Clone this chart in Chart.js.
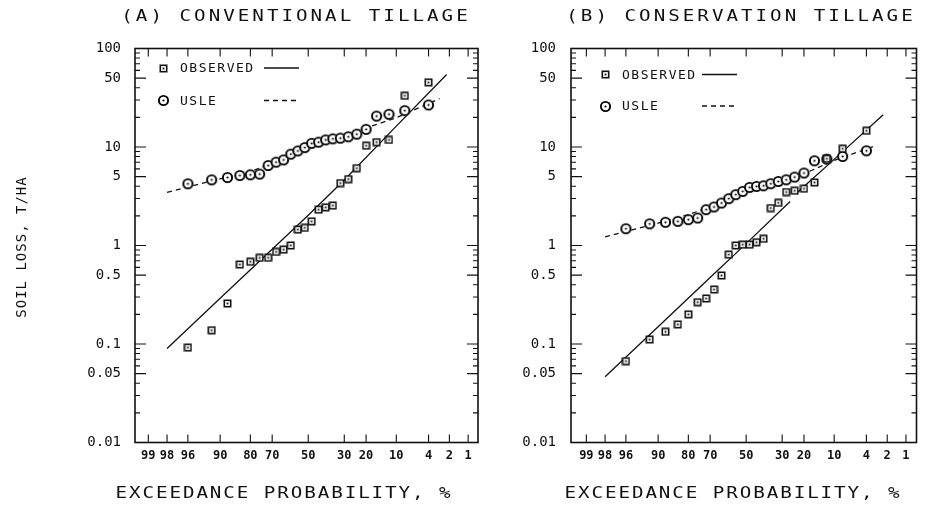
<!DOCTYPE html>
<html>
<head>
<meta charset="utf-8">
<title>Soil loss exceedance probability</title>
<script src="https://cdn.jsdelivr.net/npm/chart.js@4.4.0/dist/chart.umd.min.js"></script>
<style>
    html, body { margin: 0; padding: 0; background: #fff; }
    #wrap { position: relative; width: 941px; height: 509px; overflow: hidden; }
    #chartA { position: absolute; left: 0; top: 0; }
    #chartB { position: absolute; left: 520px; top: 0; }
</style>
</head>
<body>
<div id="wrap">
    <canvas id="chartA" width="520" height="509"></canvas>
    <canvas id="chartB" width="421" height="509"></canvas>
</div>
<script>
// exceedance probability (%) of each ranked storm
const plotPos = [96, 92, 88, 84, 80, 76, 72, 68, 64, 60, 56, 52, 48, 44, 40, 36, 32, 28, 24, 20, 16, 12, 8, 4];

// (A) conventional tillage, soil loss T/HA
const convObserved = [0.092, 0.138, 0.258, 0.641, 0.683, 0.749, 0.75, 0.861, 0.909, 1.0, 1.45, 1.51,
    1.76, 2.31, 2.44, 2.54, 4.3, 4.72, 6.1, 10.3, 11.2, 11.8, 33.1, 45.3];
const convUsle = [4.23, 4.64, 4.9, 5.13, 5.22, 5.31, 6.48, 7.02, 7.4, 8.46, 9.13, 9.86,
    10.9, 11.2, 11.8, 12.1, 12.3, 12.7, 13.5, 15.1, 20.6, 21.5, 23.4, 26.7];
const convObsFitProb = [98, 90, 70, 50, 30, 10, 2.2];
const convObsFit = [0.09, 0.292, 0.918, 2.03, 4.63, 16.3, 54.5];
const convUsleFitProb = [98, 90, 80, 70, 50, 30, 20, 10, 2.8];
const convUsleFit = [3.47, 4.75, 5.6, 6.9, 10.0, 13.3, 15.6, 19.8, 31];

// (B) conservation tillage
const consObserved = [0.067, 0.111, 0.133, 0.158, 0.2, 0.266, 0.29, 0.357, 0.496, 0.809, 1.0, 1.02,
    1.02, 1.08, 1.17, 2.4, 2.71, 3.49, 3.6, 3.77, 4.37, 7.6, 9.6, 14.6];
const consUsle = [1.48, 1.66, 1.72, 1.76, 1.83, 1.9, 2.31, 2.46, 2.7, 2.99, 3.28, 3.54,
    3.89, 3.98, 4.04, 4.24, 4.47, 4.65, 4.95, 5.44, 7.25, 7.53, 8.02, 9.15];
const consObsFitProb = [98, 90, 70, 50, 26.1, 24.5, 23, 20, 10, 2.3];
const consObsFit = [0.0465, 0.15, 0.473, 1.045, 2.8, null, 3.41, 3.97, 7.49, 21.2];
const consUsleFitProb = [98, 90, 80, 70, 50, 30, 20, 10, 2.9];
const consUsleFit = [1.22, 1.69, 2.06, 2.45, 3.85, 4.47, 5.35, 7.3, 10.4];

// axis ticks
const xTickProbs = [99, 98, 96, 90, 80, 70, 50, 30, 20, 10, 4, 2, 1];
const yTickVals = [0.01, 0.05, 0.1, 0.5, 1, 5, 10, 50, 100];
const yTickLabels = ["0.01", "0.05", "0.1", "0.5", "1", "5", "10", "50", "100"];

const INK = "#111";
const FONT = '"DejaVu Sans Mono", "Liberation Mono", monospace';

Chart.defaults.font.family = FONT;
Chart.defaults.color = INK;

// inverse standard normal (Acklam) - the x axis is normal probability paper
function probit(p) {
    const a = [-3.969683028665376e+01, 2.209460984245205e+02, -2.759285104469687e+02, 1.383577518672690e+02, -3.066479806614716e+01, 2.506628277459239e+00];
    const b = [-5.447609879822406e+01, 1.615858368580409e+02, -1.556989798598866e+02, 6.680131188771972e+01, -1.328068155288572e+01];
    const c = [-7.784894002430293e-03, -3.223964580411365e-01, -2.400758277161838e+00, -2.549732539343734e+00, 4.374664141464968e+00, 2.938163982698783e+00];
    const d = [7.784695709041462e-03, 3.224671290700398e-01, 2.445134137142996e+00, 3.754408661907416e+00];
    const pl = 0.02425;
    let q, r;
    if (p < pl) {
        q = Math.sqrt(-2 * Math.log(p));
        return (((((c[0] * q + c[1]) * q + c[2]) * q + c[3]) * q + c[4]) * q + c[5]) / ((((d[0] * q + d[1]) * q + d[2]) * q + d[3]) * q + 1);
    }
    if (p > 1 - pl) {
        q = Math.sqrt(-2 * Math.log(1 - p));
        return -(((((c[0] * q + c[1]) * q + c[2]) * q + c[3]) * q + c[4]) * q + c[5]) / ((((d[0] * q + d[1]) * q + d[2]) * q + d[3]) * q + 1);
    }
    q = p - 0.5;
    r = q * q;
    return (((((a[0] * r + a[1]) * r + a[2]) * r + a[3]) * r + a[4]) * r + a[5]) * q / (((((b[0] * r + b[1]) * r + b[2]) * r + b[3]) * r + b[4]) * r + 1);
}
// exceedance percent -> position on probability paper
const zOf = (pct) => probit(1 - pct / 100);

const toPoints = (probs, vals) => probs.map((p, i) => ({ x: zOf(p), y: vals[i] }));

// plotter style markers
function squareMark() {
    const c = document.createElement("canvas");
    c.width = 9; c.height = 9;
    const g = c.getContext("2d");
    g.fillStyle = "#fff";
    g.fillRect(1, 1, 7, 7);
    g.strokeStyle = INK;
    g.lineWidth = 1.6;
    g.strokeRect(1.3, 1.3, 6.4, 6.4);
    g.fillStyle = INK;
    g.fillRect(3.6, 3.6, 1.8, 1.8);
    return c;
}
function circleMark() {
    const c = document.createElement("canvas");
    c.width = 13; c.height = 13;
    const g = c.getContext("2d");
    g.fillStyle = "#fff";
    g.beginPath(); g.arc(6.5, 6.5, 5.5, 0, Math.PI * 2); g.fill();
    g.strokeStyle = "#000";
    g.lineWidth = 1.9;
    g.beginPath(); g.arc(6.5, 6.5, 4.6, 0, Math.PI * 2); g.stroke();
    g.fillStyle = "#000";
    g.beginPath(); g.arc(6.5, 6.5, 1.1, 0, Math.PI * 2); g.fill();
    return c;
}
const SQ = squareMark();
const CI = circleMark();

// stretched text to mimic the wide plotter lettering
function wideText(ctx, text, x, y, sx) {
    ctx.save();
    ctx.translate(x, y);
    ctx.scale(sx, 1);
    ctx.fillText(text, 0, 0);
    ctx.restore();
}

// frame, inward ticks, titles and legend, like the old plotter sheet
const paperPlugin = {
    id: "paper",
    afterDraw(chart, args, o) {
        const { ctx, chartArea: a, scales: { x, y } } = chart;
        ctx.save();
        ctx.strokeStyle = INK;
        ctx.lineWidth = 1.6;
        ctx.strokeRect(a.left, a.top, a.right - a.left, a.bottom - a.top);

        ctx.lineWidth = 1.1;
        ctx.beginPath();
        for (let e = -2; e <= 1; e++) {
            for (let m = 1; m <= 9; m++) {
                const v = m * Math.pow(10, e);
                const py = y.getPixelForValue(v);
                const len = (m === 1 || m === 5) ? 11 : 5;
                ctx.moveTo(a.left, py); ctx.lineTo(a.left + len, py);
                ctx.moveTo(a.right, py); ctx.lineTo(a.right - len, py);
            }
        }
        for (const p of xTickProbs) {
            const px = x.getPixelForValue(zOf(p));
            ctx.moveTo(px, a.bottom); ctx.lineTo(px, a.bottom - 8);
            ctx.moveTo(px, a.top); ctx.lineTo(px, a.top + 8);
        }
        ctx.stroke();

        ctx.fillStyle = INK;
        ctx.textBaseline = "middle";
        ctx.textAlign = "center";

        // panel title and axis titles
        ctx.font = "16px " + FONT;
        ctx.letterSpacing = "2.5px";
        wideText(ctx, o.title, o.titleX, 17, 1.2);
        ctx.letterSpacing = "1.6px";
        wideText(ctx, "EXCEEDANCE PROBABILITY, %", o.xTitleX, 494, 1.2);
        if (o.yTitle) {
            ctx.save();
            ctx.font = "14px " + FONT;
            ctx.letterSpacing = "1px";
            ctx.translate(22, 247);
            ctx.rotate(-Math.PI / 2);
            ctx.fillText(o.yTitle, 0, 0);
            ctx.restore();
        }

        // legend
        ctx.font = "13px " + FONT;
        ctx.letterSpacing = "1.5px";
        ctx.textAlign = "left";
        const rows = [
            { img: SQ, text: "OBSERVED", dash: [] },
            { img: CI, text: "USLE", dash: [5, 4] }
        ];
        rows.forEach((r, i) => {
            const ly = a.top + o.legendRows[i];
            const mx = a.left + o.legendX;
            ctx.drawImage(r.img, Math.round(mx - r.img.width / 2), Math.round(ly - r.img.height / 2));
            ctx.fillText(r.text, mx + 17, ly + 1);
            ctx.setLineDash(r.dash);
            ctx.lineWidth = 1.3;
            ctx.beginPath();
            ctx.moveTo(mx + o.legendLine[0], ly);
            ctx.lineTo(mx + o.legendLine[1], ly);
            ctx.stroke();
        });
        ctx.restore();
    }
};

function makePanel(canvasId, cfg) {
    const ctx = document.getElementById(canvasId).getContext("2d");
    return new Chart(ctx, {
        type: "scatter",
        data: {
            datasets: [
                {
                    label: "OBSERVED",
                    data: toPoints(plotPos, cfg.observed),
                    pointStyle: SQ,
                    pointRadius: 4,
                    order: 0
                },
                {
                    label: "USLE",
                    data: toPoints(plotPos, cfg.usle),
                    pointStyle: CI,
                    pointRadius: 6,
                    order: 0
                },
                {
                    label: "OBSERVED fit",
                    data: toPoints(cfg.obsFitProb, cfg.obsFit),
                    showLine: true,
                    spanGaps: false,
                    pointRadius: 0,
                    borderColor: INK,
                    borderWidth: 1.3,
                    order: 1
                },
                {
                    label: "USLE fit",
                    data: toPoints(cfg.usleFitProb, cfg.usleFit),
                    showLine: true,
                    pointRadius: 0,
                    borderColor: INK,
                    borderWidth: 1.3,
                    borderDash: [5, 4],
                    order: 1
                }
            ]
        },
        options: {
            responsive: false,
            animation: false,
            events: [],
            layout: { padding: { top: 48.5, right: cfg.padRight, left: 0, bottom: 0 } },
            plugins: {
                legend: { display: false },
                tooltip: { enabled: false },
                paper: cfg.paper
            },
            scales: {
                x: {
                    type: "linear",
                    min: cfg.zMin,
                    max: cfg.zMax,
                    grid: { display: false, drawTicks: false },
                    border: { display: false },
                    afterBuildTicks: (s) => { s.ticks = xTickProbs.map((p) => ({ value: zOf(p) })); },
                    afterFit: (s) => { s.height = 66.5; },
                    ticks: {
                        autoSkip: false,
                        maxRotation: 0,
                        padding: 6,
                        font: { size: 12, weight: "bold" },
                        callback: (v, i) => String(xTickProbs[i])
                    }
                },
                y: {
                    type: "logarithmic",
                    min: 0.01,
                    max: 100,
                    grid: { display: false, drawTicks: false },
                    border: { display: false },
                    afterBuildTicks: (s) => { s.ticks = yTickVals.map((v) => ({ value: v })); },
                    afterFit: (s) => { s.width = cfg.yWidth; },
                    ticks: {
                        autoSkip: false,
                        padding: cfg.yPad,
                        font: { size: 14 },
                        callback: (v, i) => yTickLabels[i]
                    }
                }
            }
        },
        plugins: [paperPlugin]
    });
}

makePanel("chartA", {
    observed: convObserved,
    usle: convUsle,
    obsFitProb: convObsFitProb,
    obsFit: convObsFit,
    usleFitProb: convUsleFitProb,
    usleFit: convUsleFit,
    zMin: -2.52,
    zMax: 2.47,
    padRight: 42,
    yWidth: 135,
    yPad: 14,
    paper: {
        title: "(A) CONVENTIONAL TILLAGE",
        titleX: 296,
        xTitleX: 284,
        yTitle: "SOIL LOSS, T/HA",
        legendX: 28,
        legendRows: [19.5, 52],
        legendLine: [101, 136]
    }
});

makePanel("chartB", {
    observed: consObserved,
    usle: consUsle,
    obsFitProb: consObsFitProb,
    obsFit: consObsFit,
    usleFitProb: consUsleFitProb,
    usleFit: consUsleFit,
    zMin: -2.55,
    zMax: 2.48,
    padRight: 24.5,
    yWidth: 51,
    yPad: 15,
    paper: {
        title: "(B) CONSERVATION TILLAGE",
        titleX: 221,
        xTitleX: 213,
        yTitle: null,
        legendX: 34,
        legendRows: [26, 57.5],
        legendLine: [97, 132]
    }
});
</script>
</body>
</html>
